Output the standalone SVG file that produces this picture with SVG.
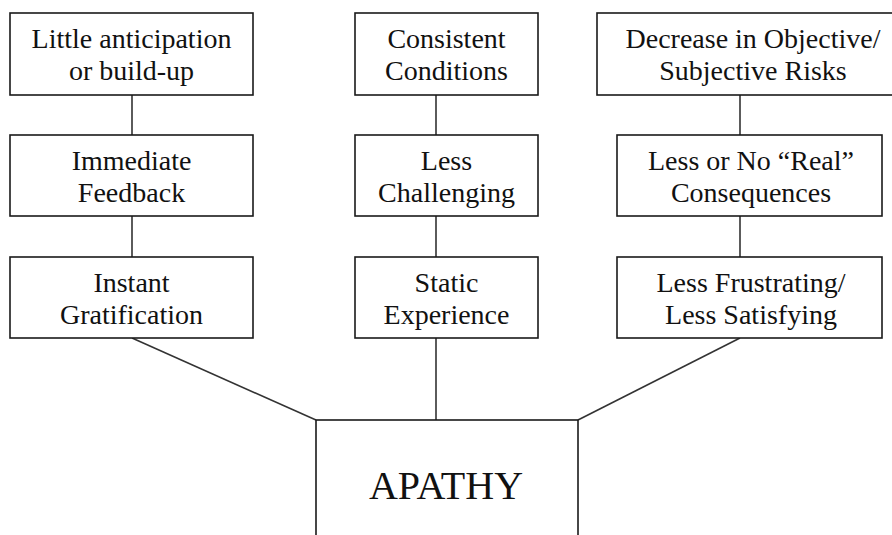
<svg xmlns="http://www.w3.org/2000/svg" width="892" height="535" viewBox="0 0 892 535">
<style>
.box{fill:#fff;stroke:#1a1a1a;stroke-width:1.6}
text{font-family:'Liberation Serif','DejaVu Serif','Times New Roman',Times,serif;font-size:28px;fill:#111;text-anchor:middle}
.big{font-size:40px}
.c{stroke:#333;stroke-width:1.6;fill:none}
</style>
<rect width="892" height="535" fill="#fff"/>
<g id="connectors">
<line class="c" x1="132" y1="95" x2="132" y2="135"/>
<line class="c" x1="132" y1="216" x2="132" y2="257"/>
<line class="c" x1="436" y1="95" x2="436" y2="135"/>
<line class="c" x1="436" y1="216" x2="436" y2="257"/>
<line class="c" x1="740" y1="95" x2="740" y2="135"/>
<line class="c" x1="740" y1="216" x2="740" y2="257"/>
<line class="c" x1="132" y1="338" x2="316" y2="420"/>
<line class="c" x1="436" y1="338" x2="436" y2="420"/>
<line class="c" x1="740" y1="338" x2="578" y2="420"/>
</g>
<g id="n1"><rect class="box" x="10" y="13" width="243" height="82"/><text x="131.5" y="48">Little anticipation</text><text x="131.5" y="80">or build-up</text></g>
<g id="n2"><rect class="box" x="10" y="135" width="243" height="81"/><text x="131.5" y="170">Immediate</text><text x="131.5" y="202">Feedback</text></g>
<g id="n3"><rect class="box" x="10" y="257" width="243" height="81"/><text x="131.5" y="292">Instant</text><text x="131.5" y="324">Gratification</text></g>
<g id="n4"><rect class="box" x="355" y="13" width="183" height="82"/><text x="446.5" y="48">Consistent</text><text x="446.5" y="80">Conditions</text></g>
<g id="n5"><rect class="box" x="355" y="135" width="183" height="81"/><text x="446.5" y="170">Less</text><text x="446.5" y="202">Challenging</text></g>
<g id="n6"><rect class="box" x="355" y="257" width="183" height="81"/><text x="446.5" y="292">Static</text><text x="446.5" y="324">Experience</text></g>
<g id="n7"><rect class="box" x="597" y="13" width="312" height="82"/><text x="753" y="48">Decrease in Objective/</text><text x="753" y="80">Subjective Risks</text></g>
<g id="n8"><rect class="box" x="617" y="135" width="265" height="81"/><text x="751" y="170">Less or No “Real”</text><text x="751" y="202">Consequences</text></g>
<g id="n9"><rect class="box" x="617" y="257" width="265" height="81"/><text x="751" y="292">Less Frustrating/</text><text x="751" y="324">Less Satisfying</text></g>
<g id="apathy"><rect class="box" x="316" y="420" width="262" height="140"/><text class="big" x="446" y="499">APATHY</text></g>
</svg>
